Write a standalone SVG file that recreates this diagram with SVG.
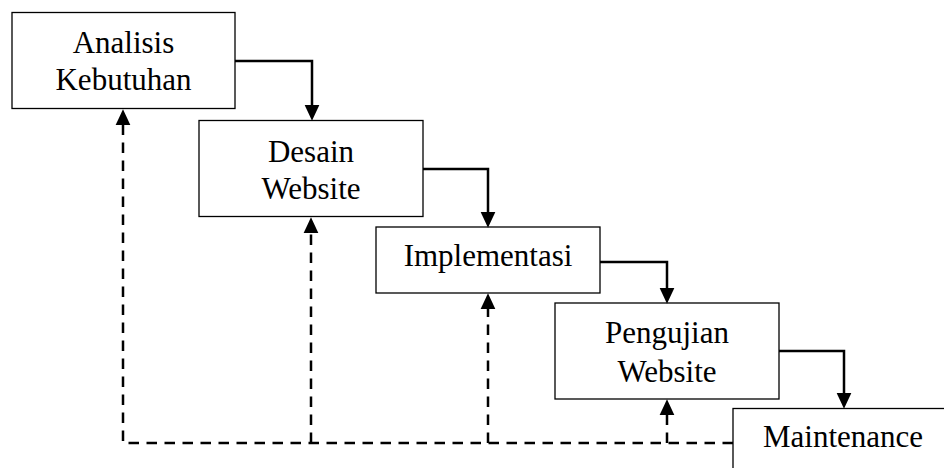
<svg xmlns="http://www.w3.org/2000/svg" width="944" height="468" viewBox="0 0 944 468">
<style>
.box{fill:#fff;stroke:#000;stroke-width:1.3}
.lbl{font-family:"Liberation Serif","Times New Roman",serif;font-size:31px;fill:#000;text-anchor:middle}
.solid{fill:none;stroke:#000;stroke-width:2.5}
.dash{fill:none;stroke:#000;stroke-width:2.5;stroke-dasharray:10.5 7.5}
</style>
<defs>
<marker id="ah" markerUnits="userSpaceOnUse" markerWidth="16" markerHeight="16" viewBox="0 0 15 14" refX="4" refY="7" orient="auto">
<path d="M0,0 L15,7 L0,14 z" fill="#000"/>
</marker>
</defs>
<rect x="0" y="0" width="944" height="468" fill="#fff"/>
<g id="n1"><rect class="box" x="12" y="12.5" width="223" height="96"/><text class="lbl" x="123.5" y="53">Analisis</text><text class="lbl" x="123.5" y="90">Kebutuhan</text></g>
<g id="n2"><rect class="box" x="199" y="120.5" width="224" height="96"/><text class="lbl" x="311" y="161.5">Desain</text><text class="lbl" x="311" y="199">Website</text></g>
<g id="n3"><rect class="box" x="376" y="227" width="224" height="66"/><text class="lbl" x="488" y="265.5">Implementasi</text></g>
<g id="n4"><rect class="box" x="555" y="303" width="224" height="96"/><text class="lbl" x="667" y="343">Pengujian</text><text class="lbl" x="667" y="381.5">Website</text></g>
<g id="n5"><rect class="box" x="733" y="408.5" width="222" height="100"/><text class="lbl" x="843" y="447">Maintenance</text></g>
<g id="connectors">
<path class="solid" d="M235,61 H312 V109" marker-end="url(#ah)"/>
<path class="solid" d="M423,169 H488 V216" marker-end="url(#ah)"/>
<path class="solid" d="M600,262 H667 V292" marker-end="url(#ah)"/>
<path class="solid" d="M779,351 H844 V397" marker-end="url(#ah)"/>
<path class="dash" d="M733,443 H123 V121" marker-end="url(#ah)"/>
<path class="dash" d="M311,443 V229" marker-end="url(#ah)"/>
<path class="dash" d="M488,443 V305" marker-end="url(#ah)"/>
<path class="dash" d="M667,443 V411" marker-end="url(#ah)"/>
</g>
</svg>
